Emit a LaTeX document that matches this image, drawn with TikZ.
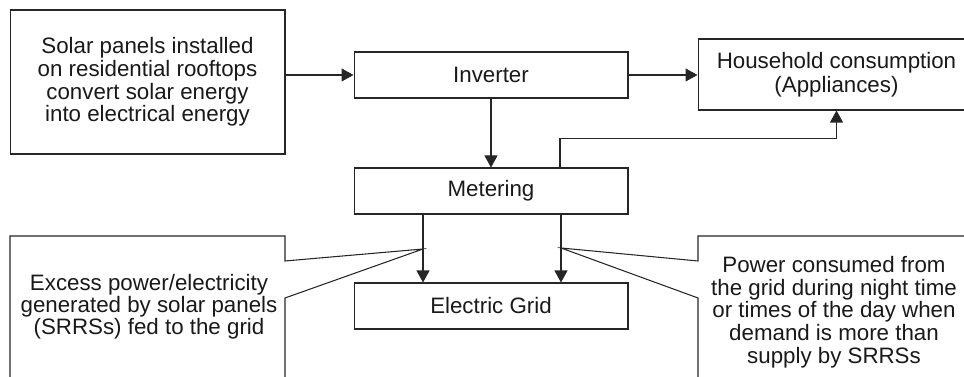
\documentclass[tikz,border=0pt]{standalone}
\usepackage{fontspec}
\setmainfont{Liberation Sans}
\usetikzlibrary{arrows.meta}

\tikzset{
  line/.style={draw=black!85, line width=0.6pt},
  arr/.style={line, -{Triangle[length=0.24cm, width=0.26cm]}},
  blk/.style={line, align=center, inner sep=0pt, text=black!90, font=\fontsize{12.7pt}{11.4pt}\selectfont},
  txt/.style={align=center, inner sep=0pt, text=black!90},
}

\begin{document}
\begin{tikzpicture}[x=0.02cm, y=-0.02cm]
    % 画布
    \useasboundingbox (0,0) rectangle (964,377);
    \clip (0,0) rectangle (964,377);

    % 方框
    \node[blk, minimum width=5.5cm, minimum height=2.88cm] (solar) at (147.5,82)
        {Solar panels installed\\on residential rooftops\\convert solar energy\\into electrical energy};
    \node[blk, minimum width=5.48cm, minimum height=0.92cm] (inverter) at (491,75) {Inverter};
    \node[blk, minimum width=5.48cm, minimum height=0.92cm] (metering) at (491,191) {Metering};
    \node[blk, minimum width=5.48cm, minimum height=0.92cm] (grid) at (491,306) {Electric Grid};
    \node[blk, minimum width=5.54cm, minimum height=1.42cm,
          font=\fontsize{12.7pt}{13.6pt}\selectfont] (house) at (836.5,74.5)
        {Household consumption\\(Appliances)};

    % 连线
    \draw[arr] (solar.east |- inverter.west) -- (inverter.west);
    \draw[arr] (inverter.east) -- (house.west |- inverter.east);
    \draw[arr] (inverter.south) -- (metering.north);
    \draw[arr] ([xshift=1.38cm]metering.north) -- ++(0,-29) -| (house.south);
    \draw[arr] ([xshift=-1.36cm]metering.south) -- ([xshift=-1.36cm]grid.north);
    \draw[arr] ([xshift=1.4cm]metering.south) -- ([xshift=1.4cm]grid.north);

    % 标注框
    \coordinate (tipL) at (423,249);
    \coordinate (tipR) at (561,248);
    \draw[line] (tipL) -- (285,261) -- (285,236) -- (10,236) -- (10,400)
        -- (285,400) -- (285,298) -- cycle;
    \draw[line] (tipR) -- (698,261) -- (698,236) -- (975,236) -- (975,400)
        -- (698,400) -- (698,298) -- cycle;
    \node[txt, font=\fontsize{12.7pt}{12.5pt}\selectfont] (excess) at (149,307)
        {Excess power/electricity\\generated by solar panels\\(SRRSs) fed to the grid};
    \node[txt, font=\fontsize{12.7pt}{12.9pt}\selectfont] (night) at (834,312)
        {Power consumed from\\the grid during night time\\or times of the day when\\demand is more than\\supply by SRRSs};
\end{tikzpicture}
\end{document}
